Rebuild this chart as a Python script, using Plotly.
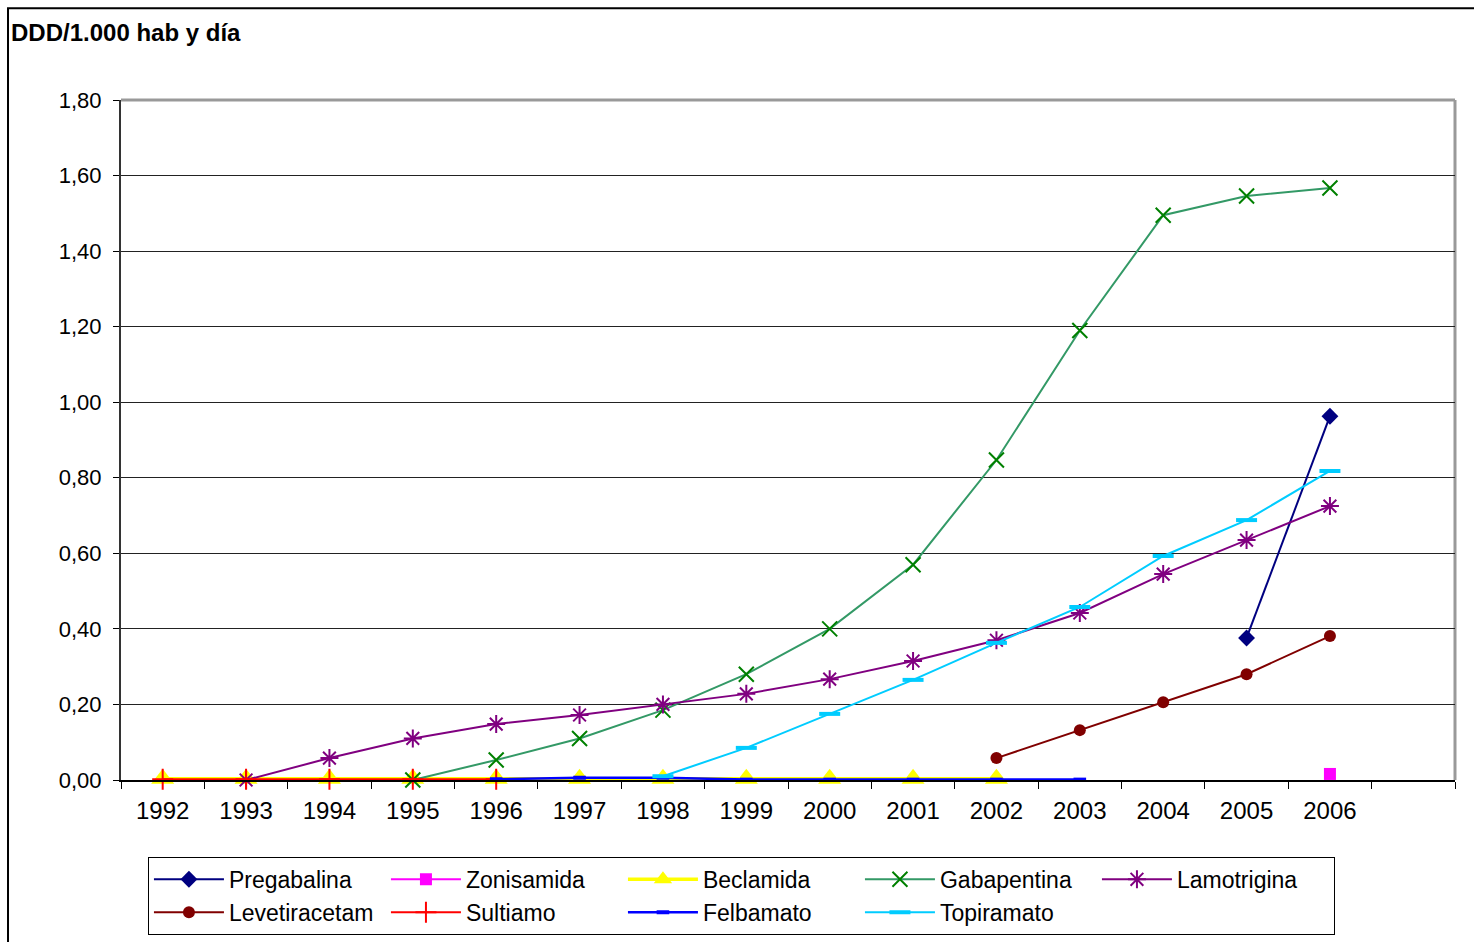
import plotly.graph_objects as go

years = [1992, 1993, 1994, 1995, 1996, 1997, 1998, 1999, 2000, 2001, 2002, 2003, 2004, 2005, 2006]
N = None
pregabalina = [N, N, N, N, N, N, N, N, N, N, N, N, N, 0.376, 0.963]
zonisamida = [N, N, N, N, N, N, N, N, N, N, N, N, N, N, 0.016]
beclamida = [0.003, 0.003, 0.003, 0.003, 0.003, 0.003, 0.003, 0.003, 0.003, 0.003, 0.003, N, N, N, N]
gabapentina = [N, N, N, 0.0, 0.053, 0.11, 0.185, 0.28, 0.40, 0.57, 0.847, 1.19, 1.495, 1.546, 1.567]
lamotrigina = [N, 0.0, 0.058, 0.11, 0.148, 0.172, 0.20, 0.228, 0.267, 0.315, 0.37, 0.442, 0.545, 0.635, 0.725]
levetiracetam = [N, N, N, N, N, N, N, N, N, N, 0.058, 0.132, 0.206, 0.28, 0.381]
sultiamo = [0.002, 0.002, 0.002, 0.002, 0.002, N, N, N, N, N, N, N, N, N, N]
felbamato = [N, N, N, N, 0.002, 0.006, 0.006, 0.001, 0.001, 0.001, 0.001, 0.001, N, N, N]
topiramato = [N, N, N, N, N, N, 0.01, 0.085, 0.175, 0.265, 0.363, 0.458, 0.593, 0.688, 0.818]

y_ticks = [0.0, 0.2, 0.4, 0.6, 0.8, 1.0, 1.2, 1.4, 1.6, 1.8]

FONT = "Arial, Liberation Sans, sans-serif"

series = [
    ("Pregabalina", pregabalina, "#000080", 2, dict(symbol="diamond", size=13, color="#000080")),
    ("Zonisamida", zonisamida, "#FF00FF", 2, dict(symbol="square", size=12, color="#FF00FF")),
    ("Beclamida", beclamida, "#FFFF00", 3.5, dict(symbol="triangle-up", size=20, color="#FFFF00")),
    ("Gabapentina", gabapentina, "#339966", 2,
     dict(symbol="x-thin-open", size=15, color="#008000", line=dict(width=2, color="#008000"))),
    ("Lamotrigina", lamotrigina, "#800080", 2,
     dict(symbol="asterisk-open", size=15, color="#800080", line=dict(width=2, color="#800080"))),
    ("Levetiracetam", levetiracetam, "#800000", 2, dict(symbol="circle", size=12, color="#800000")),
    ("Sultiamo", sultiamo, "#FF0000", 2,
     dict(symbol="cross-thin-open", size=15, color="#FF0000", line=dict(width=2, color="#FF0000"))),
    ("Felbamato", felbamato, "#0000FF", 2.5,
     dict(symbol="line-ew-open", size=9, color="#0000FF", line=dict(width=4, color="#0000FF"))),
    ("Topiramato", topiramato, "#00CCFF", 2,
     dict(symbol="line-ew-open", size=15, color="#00CCFF", line=dict(width=4, color="#00CCFF"))),
]

fig = go.Figure()
for name, vals, lc, lw, mk in series:
    fig.add_trace(go.Scatter(
        x=years, y=vals, name=name, mode="lines+markers",
        line=dict(color=lc, width=lw), marker=mk, cliponaxis=False,
    ))

fig.update_layout(
    width=1474, height=942,
    margin=dict(l=121, r=19, t=100, b=162, autoexpand=False),
    paper_bgcolor="white", plot_bgcolor="white",
    separators=",.",
    font=dict(family=FONT, size=22, color="black"),
    showlegend=True,
    legend=dict(
        orientation="h", x=0.0202, y=-0.113, xanchor="left", yanchor="top",
        bordercolor="black", borderwidth=1, entrywidth=152,
        font=dict(family=FONT, size=23, color="black"),
        itemwidth=70,
    ),
    xaxis=dict(
        range=[1991.5, 2007.5], tickmode="array", tickvals=years,
        ticktext=[str(y) for y in years], ticks="", showgrid=False,
        showline=True, linecolor="black", linewidth=2, zeroline=False,
        tickfont=dict(family=FONT, size=24), ticklabelstandoff=8,
        automargin=False,
        minor=dict(tickmode="linear", tick0=1991.5, dtick=1, ticks="outside",
                   ticklen=7, tickcolor="black", tickwidth=1, showgrid=False),
    ),
    yaxis=dict(
        range=[0, 1.8], tickmode="array", tickvals=y_ticks, tickformat=".2f",
        ticks="outside", ticklen=6, tickcolor="black",
        showgrid=True, gridcolor="#222222", gridwidth=1,
        showline=True, linecolor="#333333", linewidth=2, zeroline=False,
        tickfont=dict(family=FONT, size=22), automargin=False,
        ticklabelstandoff=7,
    ),
    shapes=[
        dict(type="line", xref="paper", yref="paper", x0=0, x1=1, y0=1, y1=1,
             line=dict(color="#999999", width=3), layer="below"),
        dict(type="line", xref="paper", yref="paper", x0=1, x1=1, y0=0, y1=1,
             line=dict(color="#999999", width=3), layer="below"),
        dict(type="rect", xref="paper", yref="paper", x0=-0.0847, x1=1.2, y0=-0.5, y1=1.135,
             line=dict(color="black", width=2), fillcolor="rgba(0,0,0,0)"),
    ],
    annotations=[
        dict(text="<b>DDD/1.000 hab y día</b>", xref="paper", yref="paper",
             x=-0.084, y=1.099, xanchor="left", yanchor="middle", showarrow=False,
             font=dict(family=FONT, size=24, color="black")),
    ],
)

fig.write_html("out.html")
